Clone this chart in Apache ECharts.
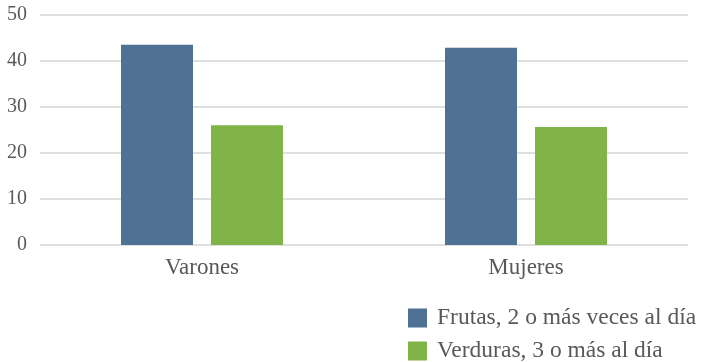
<!DOCTYPE html>
<html>
<head>
<meta charset="utf-8">
<script src="https://cdn.jsdelivr.net/npm/echarts@6/dist/echarts.min.js"></script>
<style>
  html, body { margin: 0; padding: 0; background: #fff; }
  #chart { width: 704px; height: 362px; }
</style>
</head>
<body>
<div id="chart"></div>
<script>
// Consumo diario de frutas y verduras por sexo (%)
const categories = ['Varones', 'Mujeres'];
const seriesNames = ['Frutas, 2 o más veces al día', 'Verduras, 3 o más al día'];
const frutas = [43.5, 42.8];
const verduras = [26.0, 25.6];
const yTicks = [0, 10, 20, 30, 40, 50];

const textColor = '#595959';
const fontFamily = '"Liberation Serif", "Times New Roman", serif';

// One legend row per series, stacked under the plot
const legendRowTops = [306, 339];
const legends = seriesNames.map((name, i) => ({
  orient: 'horizontal',
  left: 408,
  top: legendRowTops[i],
  padding: 0,
  itemWidth: 19,
  itemHeight: 19,
  icon: 'rect',
  textStyle: {
    fontFamily: fontFamily,
    fontSize: 23.5,
    lineHeight: 19,
    color: textColor,
    padding: [0, 0, 0, 5]
  },
  data: [name]
}));

const chart = echarts.init(document.getElementById('chart'));
chart.setOption({
  animation: false,
  textStyle: { fontFamily: fontFamily, color: textColor },
  grid: { left: 40, right: 16, top: 14.7, bottom: 117, containLabel: false },
  legend: legends,
  xAxis: {
    type: 'category',
    data: categories,
    axisLine: { show: false },
    axisTick: { show: false },
    axisLabel: { fontFamily: fontFamily, fontSize: 23, color: textColor, margin: 11 }
  },
  yAxis: {
    type: 'value',
    min: yTicks[0],
    max: yTicks[yTicks.length - 1],
    interval: yTicks[1] - yTicks[0],
    axisLine: { show: false },
    axisTick: { show: false },
    axisLabel: { fontFamily: fontFamily, fontSize: 20, color: textColor, margin: 13 },
    splitLine: { lineStyle: { color: '#d4d4d4', width: 1.5 } }
  },
  series: [
    {
      name: seriesNames[0],
      type: 'bar',
      data: frutas,
      barWidth: 72,
      barGap: '25%',
      itemStyle: { color: '#4E7194' }
    },
    {
      name: seriesNames[1],
      type: 'bar',
      data: verduras,
      barWidth: 72,
      barGap: '25%',
      itemStyle: { color: '#80B348' }
    }
  ]
});
</script>
</body>
</html>
